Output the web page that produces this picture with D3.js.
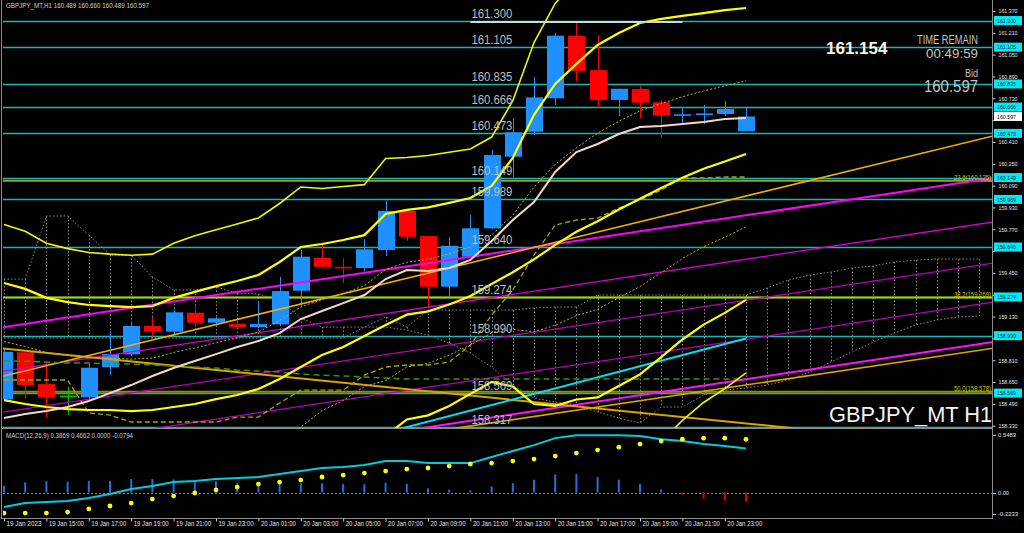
<!DOCTYPE html>
<html><head><meta charset="utf-8">
<script src="https://cdn.jsdelivr.net/npm/d3@7/dist/d3.min.js"></script>
<style>html,body{margin:0;padding:0;background:#000;overflow:hidden}svg{display:block}</style>
</head><body>
<svg id="chart" width="1024" height="533"></svg>
<script>
// ---------------- DATA ----------------
const timeLabels = ["19 Jan 2023","19 Jan 15:00","19 Jan 17:00","19 Jan 19:00","19 Jan 21:00","19 Jan 23:00","20 Jan 01:00","20 Jan 03:00","20 Jan 05:00","20 Jan 07:00","20 Jan 09:00","20 Jan 11:00","20 Jan 13:00","20 Jan 15:00","20 Jan 17:00","20 Jan 19:00","20 Jan 21:00","20 Jan 23:00"];
const timeTickBars = [0,2,4,6,8,10,12,14,16,18,20,22,24,26,28,30,32,34];
const priceTicks = [161.370,161.210,161.050,160.890,160.730,160.570,160.410,160.250,160.090,159.930,159.770,159.610,159.450,159.290,159.130,158.970,158.810,158.650,158.490,158.330];

const opens  = [158.523,158.868,158.635,158.545,158.538,158.758,158.853,159.061,159.019,159.158,159.085,159.075,159.053,159.073,159.319,159.561,159.490,159.486,159.618,159.904,159.720,159.349,159.569,159.777,160.302,160.485,160.730,161.189,160.937,160.718,160.798,160.701,160.606,160.612,160.615,160.489];
const highs  = [158.890,158.875,158.792,158.615,158.790,159.026,159.090,159.129,159.180,159.214,159.130,159.080,159.246,159.422,159.618,159.667,159.557,159.696,159.979,159.911,159.720,159.715,159.874,160.351,160.583,160.888,161.207,161.292,161.194,160.800,160.827,160.718,160.657,160.681,160.711,160.660];
const lows   = [158.510,158.533,158.391,158.408,158.520,158.701,158.840,158.982,159.000,159.056,159.070,159.045,159.045,159.060,159.202,159.486,159.374,159.459,159.574,159.686,159.195,159.275,159.560,159.770,160.155,160.460,160.681,160.857,160.657,160.600,160.583,160.437,160.547,160.542,160.600,160.489];
const closes = [158.872,158.628,158.538,158.545,158.755,158.855,159.061,159.019,159.161,159.085,159.117,159.053,159.075,159.317,159.569,159.495,159.488,159.623,159.904,159.715,159.349,159.649,159.777,160.314,160.481,160.737,161.189,160.932,160.718,160.800,160.698,160.602,160.608,160.615,160.652,160.597];

// Bollinger(20): middle line and one standard deviation
const bbMid   = [158.518,158.489,158.467,158.452,158.445,158.445,158.437,158.445,158.467,158.489,158.525,158.555,158.599,158.672,158.760,158.848,158.907,158.987,159.068,159.144,159.168,159.219,159.281,159.369,159.455,159.549,159.656,159.752,159.829,159.915,159.994,160.072,160.148,160.213,160.267,160.322];
const bbSigma = [0.429,0.422,0.400,0.392,0.385,0.381,0.381,0.381,0.400,0.411,0.414,0.418,0.418,0.429,0.440,0.407,0.392,0.370,0.407,0.384,0.381,0.372,0.359,0.359,0.419,0.530,0.590,0.615,0.646,0.647,0.644,0.620,0.593,0.571,0.555,0.535];
const bbMultipliers = [-3,-2,-1,0,1,2,3];

const maLine = [158.386,158.415,158.437,158.467,158.511,158.569,158.628,158.694,158.753,158.804,158.855,158.907,158.951,159.009,159.112,159.171,159.229,159.288,159.405,159.471,159.464,159.486,159.545,159.684,159.838,159.970,160.190,160.336,160.395,160.468,160.520,160.527,160.542,160.557,160.578,160.586];
const kijun  = [158.665,158.665,158.665,158.665,158.423,158.408,158.357,158.357,158.357,158.357,158.357,158.393,158.393,158.496,158.591,158.591,158.591,158.701,158.760,158.775,158.775,158.797,158.921,159.141,159.325,159.581,159.801,159.838,159.852,159.926,159.984,160.058,160.146,160.146,160.153,160.153];
const greenDash = [158.804,158.804,158.797,158.789,158.789,158.782,158.782,158.775,158.767,158.760,158.753,158.738,158.731,158.723,158.709,158.701,158.694,158.687,158.679,158.672,158.672,158.672,158.672,158.672,158.672,158.672,158.672,158.672,158.672,158.672,158.672,158.672,158.672,158.672,158.672,158.672];
const kumoA = [159.405,159.405,159.867,159.867,159.728,159.581,159.581,159.420,159.325,159.325,159.347,159.302,159.295,159.251,159.119,159.053,159.053,159.053,159.127,159.053,159.178,159.178,159.178,159.178,159.178,159.193,159.200,159.200,159.288,159.288,159.288,159.288,159.288,159.288,159.288,159.288,159.339,159.398,159.434,159.456,159.486,159.500,159.530,159.544,159.552,159.552,159.552];
const kumoB = [158.973,158.973,158.973,158.973,158.973,158.973,158.973,158.973,158.973,158.973,158.973,158.973,158.973,158.973,158.973,158.973,158.973,159.053,159.053,159.031,158.995,158.936,158.863,158.760,158.628,158.533,158.503,158.481,158.430,158.386,158.349,158.467,158.467,158.555,158.591,158.606,158.628,158.665,158.723,158.797,158.870,158.943,159.009,159.068,159.105,159.127,159.134];

const levels = [161.300,161.105,160.835,160.666,160.473,160.149,159.989,159.640,159.274,158.990,158.569,158.317];
const fibLevels = [160.125,159.269,158.578];
const fibNames  = ["23.6","38.2","50.0"];
const bidPrice = 160.597;
const highMark = [22,32,161.300];

// trend lines: [barA, priceA, barB, priceB]
const magentaLines = [[0,159.053,46,160.130],[0,158.731,46,159.808],[0,158.430,46,159.507],[0,158.144,46,159.221],[0,157.851,46,158.928]];
const orangeLines  = [[0,158.896,36,158.331],[0,158.694,46,160.429],[22,158.328,46,158.883]];
const cyanSegment  = [18,158.279,35,158.969];

const macdMain   = [-0.127,-0.092,-0.083,-0.074,-0.048,-0.013,0.031,0.057,0.092,0.101,0.118,0.127,0.136,0.162,0.188,0.215,0.223,0.241,0.276,0.276,0.258,0.258,0.258,0.311,0.364,0.416,0.477,0.503,0.503,0.503,0.495,0.468,0.451,0.425,0.407,0.3869];
const macdSignal = [-0.180,-0.180,-0.180,-0.171,-0.144,-0.118,-0.092,-0.057,-0.031,-0.004,0.022,0.048,0.074,0.092,0.109,0.136,0.153,0.171,0.188,0.206,0.215,0.232,0.250,0.258,0.276,0.293,0.320,0.346,0.372,0.398,0.425,0.451,0.468,0.477,0.477,0.4662];
const macdHist   = [0.057,0.089,0.100,0.095,0.103,0.103,0.118,0.118,0.116,0.103,0.100,0.080,0.089,0.089,0.080,0.080,0.074,0.074,0.086,0.077,0.037,0.025,0.019,0.054,0.083,0.112,0.159,0.162,0.136,0.112,0.074,0.025,-0.019,-0.054,-0.072,-0.0794];
const macdAxisTicks = [0.5483,0,-0.2233];
const macdAxisText  = ["0.5483","0.00","-0.2233"];

// ---------------- RENDER ----------------
const FONT = "'Liberation Sans', Arial, sans-serif";
const svg = d3.select("#chart");
svg.append("rect").attr("width",1024).attr("height",533).attr("fill","#000");

const x  = d3.scaleLinear().domain([0,35]).range([4,746]);
const y  = d3.scaleLinear().domain([158.33,161.37]).range([425.7,11]);
const ym = d3.scaleLinear().domain([-0.2233,0.5483]).range([518,430]);
const cr = v => Math.round(v)+0.5;

const defs = svg.append("defs");
defs.append("clipPath").attr("id","clipMain").append("rect").attr("x",3).attr("y",0).attr("width",990).attr("height",428);
defs.append("clipPath").attr("id","clipMacd").append("rect").attr("x",3).attr("y",430).attr("width",990).attr("height",88);

const main = svg.append("g").attr("clip-path","url(#clipMain)");

// horizontal levels
main.append("g").selectAll("line").data(levels).join("line")
  .attr("x1",3).attr("x2",993).attr("y1",d=>cr(y(d))).attr("y2",d=>cr(y(d)))
  .attr("stroke","#1cb3b3").attr("stroke-width",1.3);

// Ichimoku cloud
const kIdx = d3.range(kumoA.length);
main.append("g").selectAll("line").data(kIdx).join("line")
  .attr("x1",i=>cr(x(i))).attr("x2",i=>cr(x(i)))
  .attr("y1",i=>y(kumoA[i])).attr("y2",i=>y(kumoB[i]))
  .attr("stroke","#8a8a8a").attr("stroke-width",1).attr("stroke-dasharray","1.5,2");
const kLine = d3.line().x((d,i)=>x(i)).y(d=>y(d));
[kumoA,kumoB].forEach(arr=>{
  main.append("path").attr("d",kLine(arr)).attr("fill","none")
    .attr("stroke","#8a8a8a").attr("stroke-width",1).attr("stroke-dasharray","1.5,2");
});

// fib lines
const fibColors = ["#a3a300","#b8cc00","#8e8e00"];
main.append("g").selectAll("line").data(fibLevels).join("line")
  .attr("x1",3).attr("x2",993).attr("y1",d=>y(d)).attr("y2",d=>y(d))
  .attr("stroke",(d,i)=>fibColors[i]).attr("stroke-width",2);

// candles
const cg = main.append("g");
d3.range(closes.length).forEach(i=>{
  const o=opens[i], c=closes[i], h=highs[i], l=lows[i];
  const col = o===c ? "#00c000" : (c>o ? "#1e90ff" : "#ff0000");
  const cx = cr(x(i));
  cg.append("line").attr("x1",cx).attr("x2",cx).attr("y1",y(h)).attr("y2",y(l)).attr("stroke",col).attr("stroke-width",1);
  const top=y(Math.max(o,c)), bot=y(Math.min(o,c));
  const hgt = Math.max(1.6, bot-top);
  cg.append("rect").attr("x",cx-8.5).attr("y",bot-top<1.6 ? (top+bot)/2-0.8 : top)
    .attr("width",17).attr("height",hgt).attr("fill",col);
});

// trend lines
function extLine(t, b0, b1){
  const s=(t[3]-t[1])/(t[2]-t[0]);
  return [[b0, t[1]+s*(b0-t[0])],[b1, t[1]+s*(b1-t[0])]];
}
const magStyles = [[2,"#ff00ff"],[1.3,"#d200d2"],[1.2,"#b800b8"],[1.2,"#b800b8"],[2,"#ff10ff"]];
magentaLines.forEach((t,k)=>{
  const p=extLine(t,-1,48);
  main.append("line").attr("x1",x(p[0][0])).attr("y1",y(p[0][1])).attr("x2",x(p[1][0])).attr("y2",y(p[1][1]))
    .attr("stroke",magStyles[k][1]).attr("stroke-width",magStyles[k][0]);
});
const orStyles = [[2,"#d9a400"],[1.6,"#f0b000"],[1.6,"#e0a000"]];
orangeLines.forEach((t,k)=>{
  const p=extLine(t,-1,48);
  main.append("line").attr("x1",x(p[0][0])).attr("y1",y(p[0][1])).attr("x2",x(p[1][0])).attr("y2",y(p[1][1]))
    .attr("stroke",orStyles[k][1]).attr("stroke-width",orStyles[k][0]);
});
main.append("line").attr("x1",x(cyanSegment[0])).attr("y1",y(cyanSegment[1]))
  .attr("x2",x(cyanSegment[2])).attr("y2",y(cyanSegment[3]))
  .attr("stroke","#00e0f0").attr("stroke-width",2);

// indicator lines
const ln = d3.line().x((d,i)=>x(i)).y(d=>y(d));
main.append("path").attr("d",ln(greenDash)).attr("fill","none").attr("stroke","#3f9400").attr("stroke-width",1.5).attr("stroke-dasharray","6,4");
main.append("path").attr("d",ln(kijun)).attr("fill","none").attr("stroke","#a6a600").attr("stroke-width",1.3).attr("stroke-dasharray","5,3");
bbMultipliers.forEach(k=>{
  const arr = bbMid.map((m,i)=>m+k*bbSigma[i]);
  const p = main.append("path").attr("d",ln(arr)).attr("fill","none");
  if (Math.abs(k)===1) p.attr("stroke","#b8b800").attr("stroke-width",1).attr("stroke-dasharray","2,2");
  else if (Math.abs(k)===3) p.attr("stroke","#f4f400").attr("stroke-width",1.6);
  else p.attr("stroke","#ffff00").attr("stroke-width",2.2);
});
main.append("path").attr("d",ln(maLine)).attr("fill","none").attr("stroke","#f3d8c6").attr("stroke-width",2);

// high marker
main.append("line").attr("x1",x(highMark[0])).attr("x2",x(highMark[1])).attr("y1",y(highMark[2])+1.5).attr("y2",y(highMark[2])+1.5)
  .attr("stroke","#d6d6d6").attr("stroke-width",2);

// level text labels
main.append("g").selectAll("text").data(levels).join("text")
  .attr("x",x(22)+1).attr("y",d=>y(d)-3).text(d=>d.toFixed(3))
  .attr("font-family",FONT).attr("font-size",12.5).attr("fill","#bdbdbd")
  .attr("textLength",41).attr("lengthAdjust","spacingAndGlyphs");

// fib labels
svg.append("g").selectAll("text").data(fibLevels).join("text")
  .attr("x",991).attr("y",d=>y(d)-1).attr("text-anchor","end")
  .text((d,i)=>fibNames[i]+"("+d.toFixed(3)+")")
  .attr("font-family",FONT).attr("font-size",6.5).attr("fill","#c4c400")
  .attr("textLength",37).attr("lengthAdjust","spacingAndGlyphs");

// frame
const frame = svg.append("g").attr("stroke","#8c8c8c").attr("stroke-width",1);
frame.append("line").attr("x1",1.5).attr("x2",1.5).attr("y1",0).attr("y2",519);
frame.append("line").attr("x1",992.5).attr("x2",992.5).attr("y1",0).attr("y2",519);
frame.append("line").attr("x1",1).attr("x2",993).attr("y1",428.5).attr("y2",428.5);
frame.append("line").attr("x1",1).attr("x2",993).attr("y1",518.5).attr("y2",518.5);

// right price axis (labels hidden under level boxes are left out)
const boxLevels = levels.filter(d=>y(d)<420).concat([bidPrice]);
const visibleTicks = priceTicks.filter(t=>boxLevels.every(b=>Math.abs(y(t)-y(b))>6));
const ax = svg.append("g").attr("transform","translate(992.5,0)")
  .call(d3.axisRight(y).tickValues(priceTicks).tickSize(3).tickPadding(3).tickFormat(d3.format(".3f")));
ax.select(".domain").remove();
ax.selectAll("line").attr("stroke","#c8c8c8");
ax.selectAll("text").attr("fill","#e4e4e4").attr("font-family",FONT).attr("font-size",6)
  .attr("textLength",19).attr("lengthAdjust","spacingAndGlyphs")
  .style("display",d=>visibleTicks.includes(d)?null:"none");

// level boxes
const boxes = svg.append("g");
levels.filter(d=>y(d)<420).forEach(d=>{
  boxes.append("rect").attr("x",994).attr("y",y(d)-4.5).attr("width",28).attr("height",9).attr("fill","#00eaf6");
  boxes.append("text").attr("x",997).attr("y",y(d)+2.2).text(d.toFixed(3))
    .attr("font-family",FONT).attr("font-size",6).attr("fill","#0c2a30")
    .attr("textLength",19).attr("lengthAdjust","spacingAndGlyphs");
});
boxes.append("rect").attr("x",994).attr("y",y(bidPrice)-4.5).attr("width",28).attr("height",9).attr("fill","#ffffff");
boxes.append("text").attr("x",997).attr("y",y(bidPrice)+2.2).text(bidPrice.toFixed(3))
  .attr("font-family",FONT).attr("font-size",6).attr("fill","#000")
  .attr("textLength",19).attr("lengthAdjust","spacingAndGlyphs");

// texts
const T = (s,xx,yy,size,fill,opts={})=>{
  const t = svg.append("text").attr("x",xx).attr("y",yy).text(s)
    .attr("font-family",FONT).attr("font-size",size).attr("fill",fill);
  if(opts.anchor) t.attr("text-anchor",opts.anchor);
  if(opts.weight) t.attr("font-weight",opts.weight);
  if(opts.len) t.attr("textLength",opts.len).attr("lengthAdjust","spacingAndGlyphs");
  return t;
};
T("GBPJPY_MT,H1  160.489 160.660 160.489 160.597",6,8,6.5,"#cfcfcf",{len:143});
T("161.154",826,54,17,"#fdf3e2",{weight:"bold"});
T("TIME REMAIN",978,43.5,12.5,"#c4c4c4",{anchor:"end",len:61});
T("00:49:59",978,57.5,13.5,"#c4c4c4",{anchor:"end",len:52});
T("Bid",978,76.5,11,"#c4c4c4",{anchor:"end",len:13});
T(bidPrice.toFixed(3),978,92,16,"#c4c4c4",{anchor:"end",len:54});
T("GBPJPY_MT H1",829,422,21.8,"#f2f2f2");

// MACD panel
const mg = svg.append("g").attr("clip-path","url(#clipMacd)");
mg.append("line").attr("x1",3).attr("x2",993).attr("y1",cr(ym(0))).attr("y2",cr(ym(0)))
  .attr("stroke","#8a8a8a").attr("stroke-dasharray","2,2");
mg.selectAll(".hb").data(macdHist).join("rect")
  .attr("x",(d,i)=>x(i)-1).attr("width",2)
  .attr("y",d=>ym(Math.max(0,d))).attr("height",d=>Math.abs(ym(d)-ym(0)))
  .attr("fill",d=>d>=0?"#1c72de":"#e00000");
mg.append("path").attr("d",d3.line().x((d,i)=>x(i)).y(d=>ym(d))(macdMain))
  .attr("fill","none").attr("stroke","#00ccdc").attr("stroke-width",2);
mg.selectAll(".dot").data(macdSignal).join("circle")
  .attr("cx",(d,i)=>x(i)).attr("cy",d=>ym(d)).attr("r",2.4).attr("fill","#ffff00");
T("MACD(12,26,9) 0.3869 0.4662 0.0000 -0.0794",6,438,6.5,"#cfcfcf",{len:127});
const macdLabelY = [ym(macdAxisTicks[0])+7, ym(0)+2.5, ym(macdAxisTicks[2])-2];
const macdLabelLen = [18,11,20];
macdAxisTicks.forEach((v,k)=>{
  T(macdAxisText[k],998,macdLabelY[k],6,"#e4e4e4",{len:macdLabelLen[k]});
  svg.append("line").attr("x1",993).attr("x2",996).attr("y1",cr(macdLabelY[k]-2.3)).attr("y2",cr(macdLabelY[k]-2.3)).attr("stroke","#c8c8c8");
});

// time axis
const tx = svg.append("g").attr("transform","translate(0,518.5)")
  .call(d3.axisBottom(x).tickValues(timeTickBars).tickSize(3).tickPadding(0).tickFormat((d,i)=>timeLabels[i]));
tx.select(".domain").remove();
tx.selectAll("line").attr("stroke","#c8c8c8");
tx.selectAll("text").attr("text-anchor","start").attr("dx",2).attr("fill","#e0e0e0")
  .attr("font-family",FONT).attr("font-size",7).attr("textLength",35).attr("lengthAdjust","spacingAndGlyphs");
</script>
</body></html>
